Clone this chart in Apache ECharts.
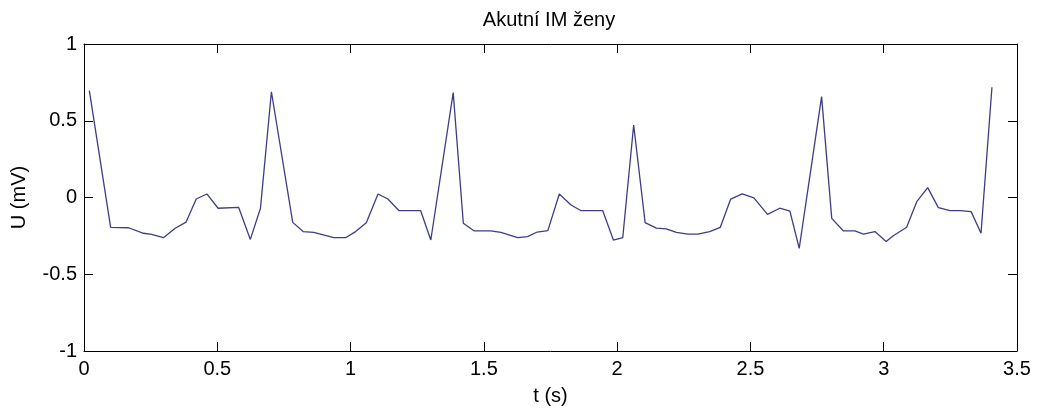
<!DOCTYPE html>
<html>
<head>
<meta charset="utf-8">
<script src="https://cdn.jsdelivr.net/npm/echarts@6/dist/echarts.min.js"></script>
<style>
  html, body { margin: 0; padding: 0; background: #fff; }
  #chart { width: 1041px; height: 415px; }
</style>
</head>
<body>
<div id="chart"></div>
<script>
// ECG trace: time (s) and voltage (mV)
const timeS = [0.02, 0.10, 0.167, 0.223, 0.254, 0.298, 0.342, 0.383, 0.421, 0.461, 0.503, 0.58, 0.624, 0.662, 0.703,
  0.783, 0.822, 0.862, 0.937, 0.981, 1.019, 1.059, 1.103, 1.14, 1.182, 1.263, 1.301, 1.385,
  1.423, 1.464, 1.526, 1.564, 1.627, 1.664, 1.70, 1.74, 1.783, 1.827, 1.865, 1.946, 1.986, 2.021, 2.062,
  2.105, 2.147, 2.184, 2.222, 2.266, 2.303, 2.347, 2.387, 2.426, 2.469, 2.513, 2.564, 2.61, 2.648, 2.683, 2.767,
  2.805, 2.849, 2.892, 2.924, 2.967, 3.009, 3.036, 3.086, 3.124, 3.165, 3.205, 3.249, 3.287, 3.328, 3.365, 3.406];
const voltageMV = [0.696, -0.194, -0.197, -0.233, -0.24, -0.262, -0.2, -0.16, -0.01, 0.023, -0.07, -0.064, -0.273, -0.07, 0.689,
  -0.162, -0.222, -0.227, -0.262, -0.262, -0.222, -0.164, 0.023, -0.01, -0.086, -0.086, -0.277, 0.683,
  -0.168, -0.218, -0.218, -0.227, -0.262, -0.255, -0.225, -0.216, 0.023, -0.049, -0.086, -0.086, -0.277, -0.262, 0.472,
  -0.164, -0.2, -0.205, -0.227, -0.238, -0.238, -0.222, -0.194, -0.01, 0.023, -0.002, -0.11, -0.07, -0.088, -0.331, 0.657,
  -0.136, -0.218, -0.218, -0.238, -0.222, -0.287, -0.249, -0.194, -0.027, 0.064, -0.066, -0.086, -0.086, -0.092, -0.233, 0.718];

const xRange = { min: 0, max: 3.5, interval: 0.5 };
const yRange = { min: -1, max: 1, interval: 0.5 };

const titleText = 'Akutní IM ženy';
const xName = 't (s)';
const yName = 'U (mV)';

const FONT = 'Liberation Sans, Arial, sans-serif';

const chart = echarts.init(document.getElementById('chart'), null, { renderer: 'canvas' });

const tickStyle = { show: true, inside: true, length: 9, lineStyle: { color: '#000', width: 1 } };
const lineStyle = { show: true, onZero: false, lineStyle: { color: '#000', width: 1 } };

chart.setOption({
  animation: false,
  backgroundColor: '#fff',
  grid: { left: 84, right: 24, top: 44, bottom: 64 },
  graphic: [{
    type: 'text',
    x: 549, y: 20,
    style: {
      text: titleText, fill: '#000', font: '20px ' + FONT,
      textAlign: 'center', textVerticalAlign: 'middle'
    }
  }],
  xAxis: [{
    type: 'value', position: 'bottom', ...xRange,
    name: xName, nameLocation: 'middle', nameGap: 35,
    nameTextStyle: { color: '#000', fontSize: 20, fontFamily: FONT },
    axisLine: lineStyle, axisTick: tickStyle,
    axisLabel: { color: '#000', fontSize: 20, fontFamily: FONT, margin: 8 },
    splitLine: { show: false }
  }, {
    type: 'value', position: 'top', ...xRange,
    axisLine: lineStyle, axisTick: tickStyle,
    axisLabel: { show: false }, splitLine: { show: false }
  }],
  yAxis: [{
    type: 'value', position: 'left', ...yRange,
    name: yName, nameLocation: 'middle', nameGap: 55, nameRotate: 90,
    nameTextStyle: { color: '#000', fontSize: 20, fontFamily: FONT },
    axisLine: lineStyle, axisTick: tickStyle,
    axisLabel: { color: '#000', fontSize: 20, fontFamily: FONT, margin: 7 },
    splitLine: { show: false }
  }, {
    type: 'value', position: 'right', ...yRange,
    axisLine: lineStyle, axisTick: tickStyle,
    axisLabel: { show: false }, splitLine: { show: false }
  }],
  series: [{
    type: 'line',
    xAxisIndex: 0, yAxisIndex: 0,
    data: timeS.map((t, i) => [t, voltageMV[i]]),
    showSymbol: false,
    lineStyle: { color: '#3d3d86', width: 1.3 },
    clip: false
  }]
});
</script>
</body>
</html>
